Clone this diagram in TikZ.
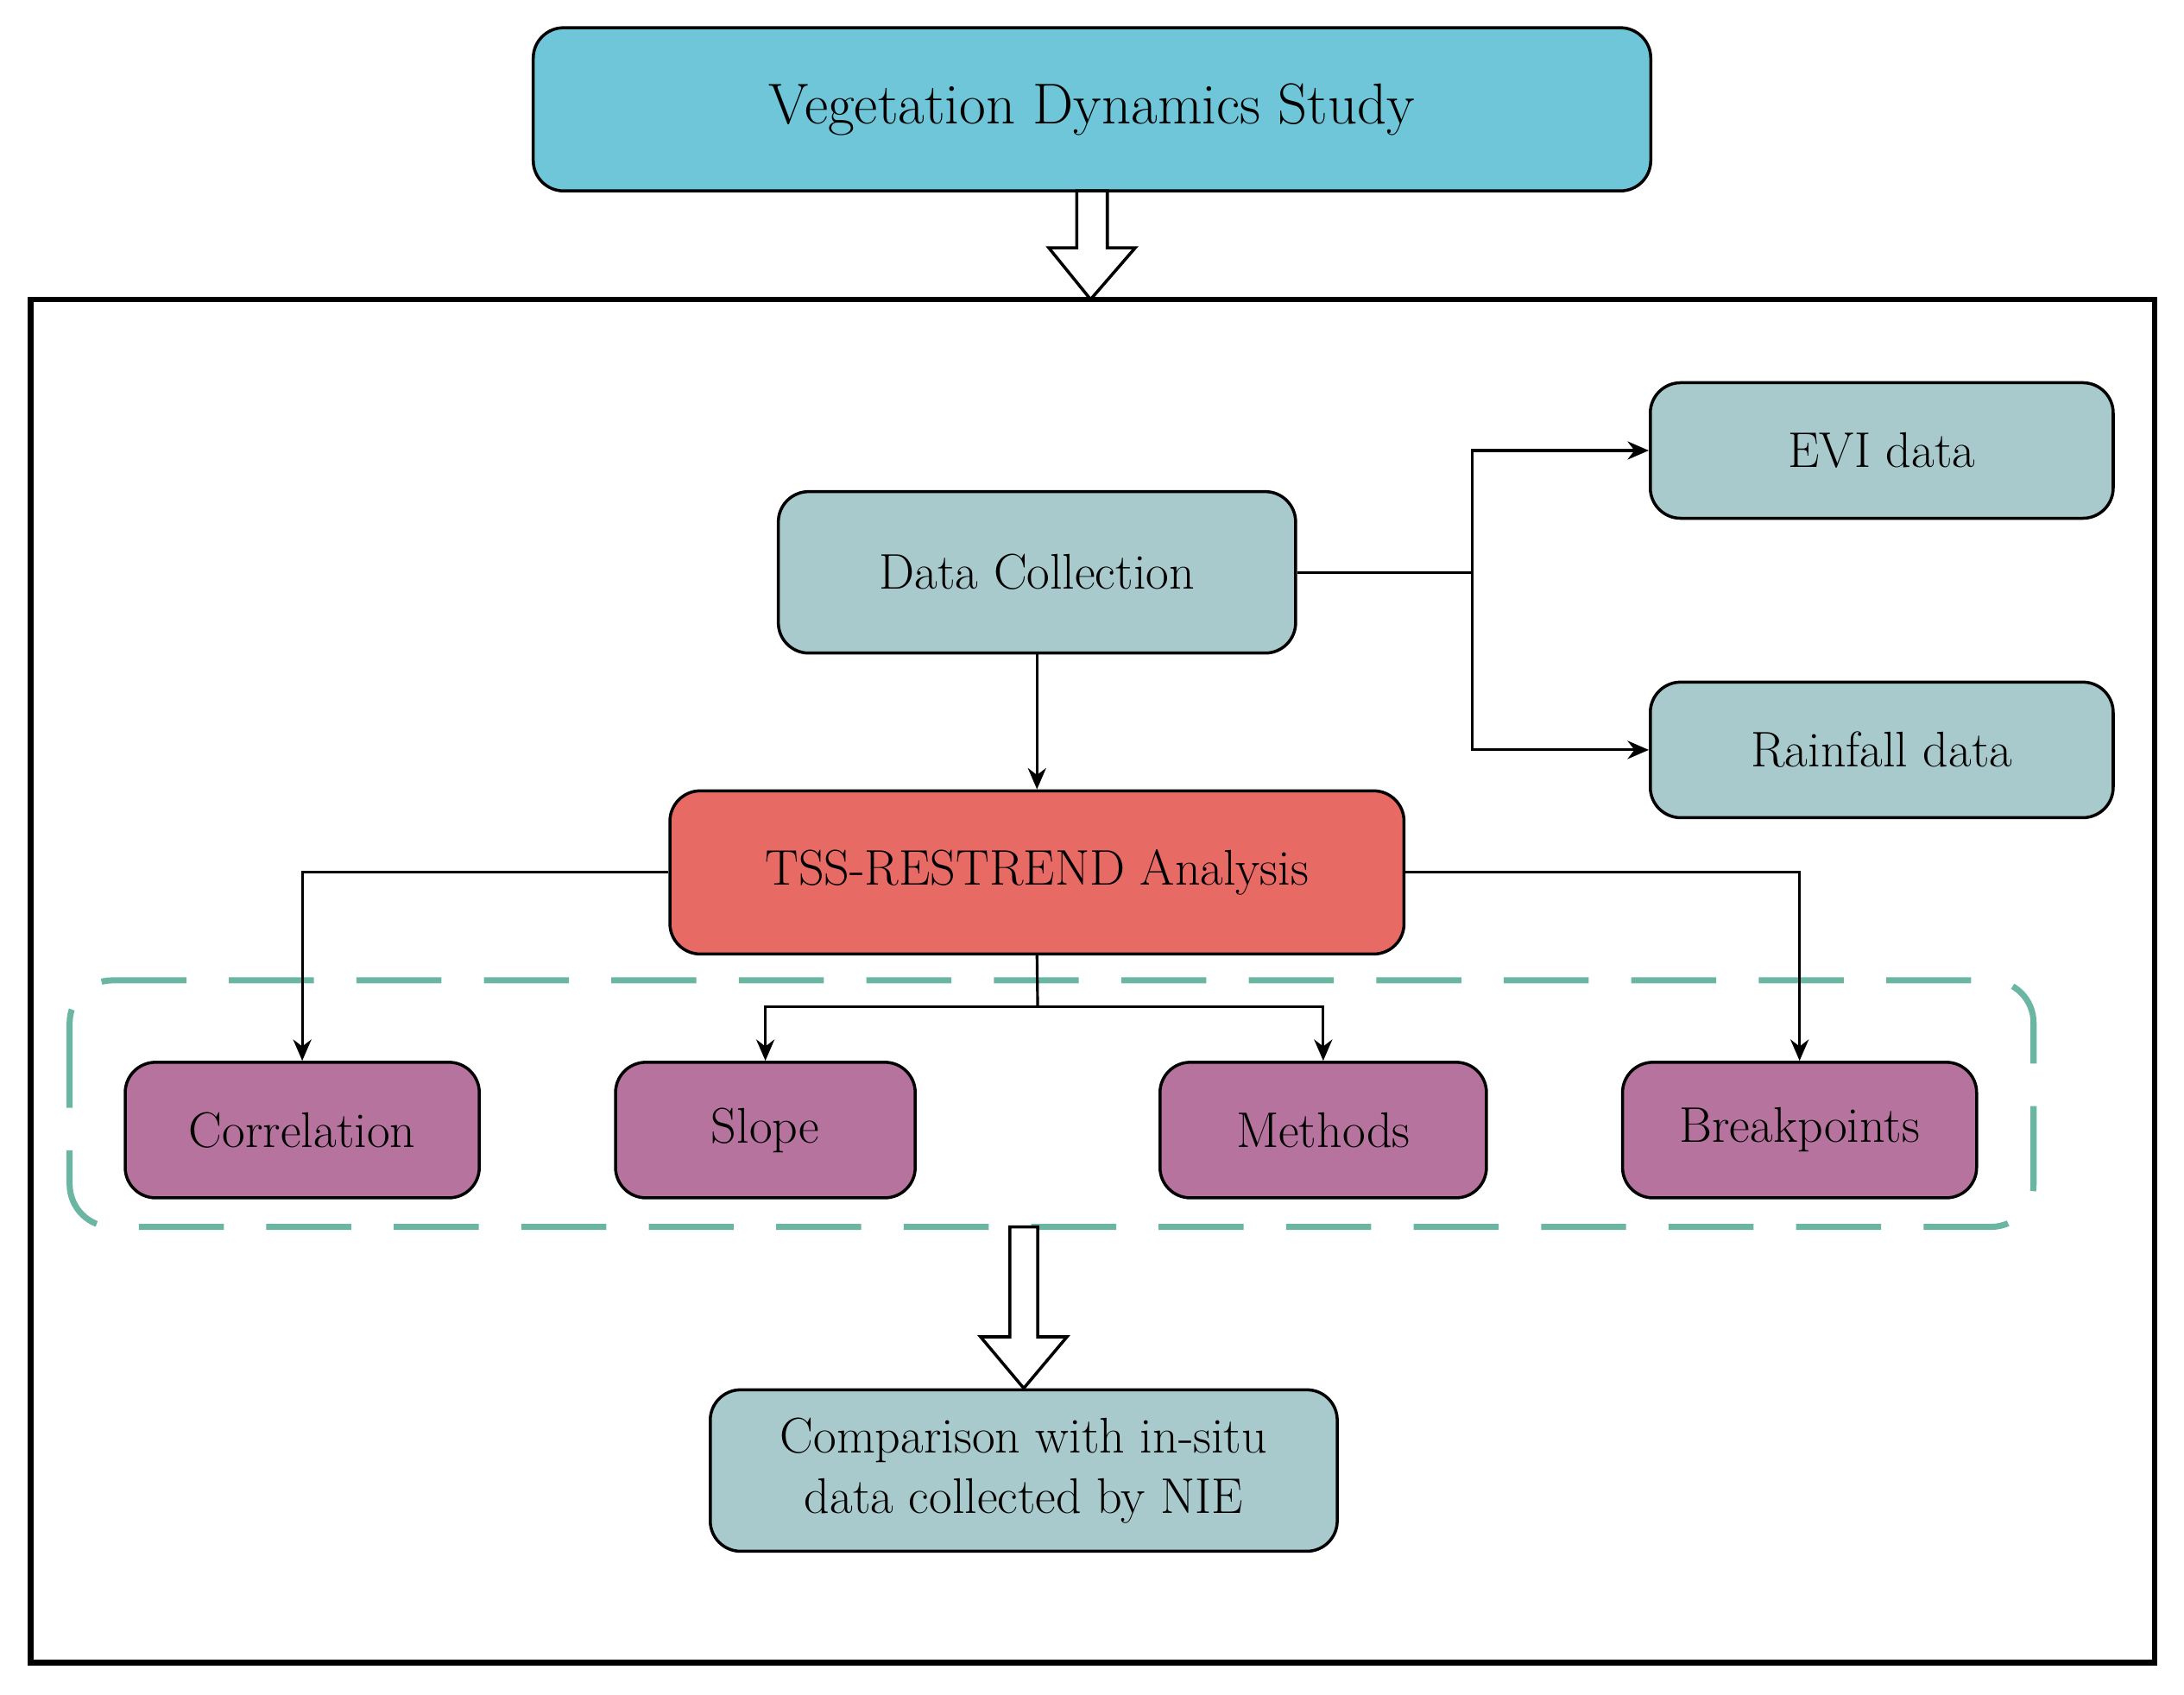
\documentclass[tikz,border=0pt]{standalone}
\usetikzlibrary{arrows.meta}
\begin{document}
\begin{tikzpicture}[x=0.016135cm,y=-0.016135cm,
 box/.style={draw,line width=1pt,rounded corners=10pt,inner sep=0pt,font=\fontsize{16.5}{20}\selectfont,align=center},
 cyanb/.style={box,fill={rgb,255:red,110;green,198;blue,216}},
 grey/.style={box,fill={rgb,255:red,168;green,202;blue,204}},
 red/.style={box,fill={rgb,255:red,232;green,106;blue,100}},
 purp/.style={box,fill={rgb,255:red,181;green,115;blue,158}},
 con/.style={line width=0.9pt,-{Stealth[length=7pt,width=6pt]}},
 hollow/.style={draw,line width=1pt,fill=white}]
\useasboundingbox (0,0) rectangle (1568,1217);
\node[cyanb,font=\fontsize{19}{23}\selectfont] (top) at (784,78.5) [minimum width=12.94cm,minimum height=1.89cm] {Vegetation Dynamics Study};
\draw[line width=1.8pt] (22,215) rectangle (1547,1194);
\coordinate (a1) at (783,215);
\draw[hollow] (773,137) -- (795,137) -- (795,178) -- (815,178) -- (a1) -- (753,178) -- (773,178) -- cycle;
\node[grey,minimum width=5.99cm,minimum height=1.87cm] (dc) at (744.5,411) {Data Collection};
\node[grey,minimum width=5.36cm,minimum height=1.57cm] (evi) at (1351,323.5) {EVI data};
\node[grey,minimum width=5.36cm,minimum height=1.57cm] (rain) at (1351,538.5) {Rainfall data};
\node[red,minimum width=8.50cm,minimum height=1.89cm] (tss) at (744.5,626.5) {TSS-RESTREND Analysis};
\draw[dashed,dash pattern=on 28pt off 14pt,line width=2pt,draw={rgb,255:red,107;green,181;blue,163},rounded corners=14pt] (50,704) rectangle (1460,881);
\node[purp,minimum width=4.10cm,minimum height=1.57cm] (cor) at (217,811.5) {Correlation};
\node[purp,minimum width=3.47cm,minimum height=1.57cm] (slo) at (549.5,811.5) {Slope};
\node[purp,minimum width=3.78cm,minimum height=1.57cm] (met) at (950,811.5) {Methods};
\node[purp,minimum width=4.10cm,minimum height=1.57cm] (brk) at (1292,811.5) {Breakpoints};
\node[grey,minimum width=7.26cm,minimum height=1.87cm] (cmp) at (735,1056) {Comparison with in-situ\\data collected by NIE};
\coordinate (j) at (1057,411);
\draw[line width=0.9pt] (dc.east) -- (j);
\draw[con] (j) |- (evi.west);
\draw[con] (j) |- (rain.west);
\draw[con] (dc.south) -- (tss.north);
\draw[con] (tss.west) -| (cor.north);
\draw[con] (tss.east) -| (brk.north);
\coordinate (t) at (745,723);
\draw[line width=0.9pt] (tss.south) -- (t);
\draw[con] (t) -| (slo.north);
\draw[con] (t) -| (met.north);
\draw[hollow] (725,881) -- (745,881) -- (745,960) -- (766,960) -- (cmp.north) -- (704,960) -- (725,960) -- cycle;
\end{tikzpicture}
\end{document}
